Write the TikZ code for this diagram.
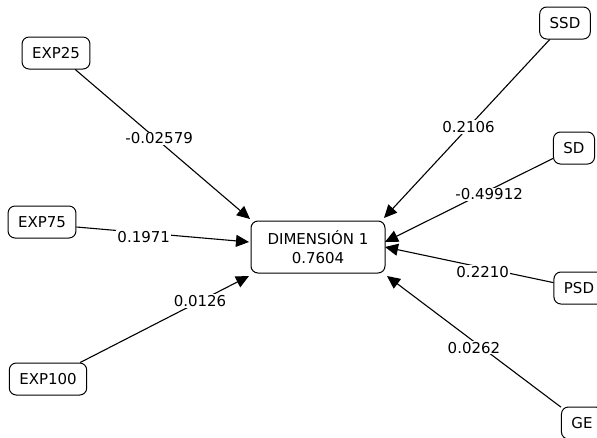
\documentclass[tikz,border=0pt]{standalone}
\usepackage{fontspec}
\setmainfont{DejaVu Sans}
\usetikzlibrary{arrows.meta}

\tikzset{
  var/.style={draw=black, line width=1pt, rounded corners=7pt, fill=white,
    inner xsep=10pt, inner ysep=0pt, minimum height=32pt,
    font=\fontsize{15}{18}\selectfont, text=black},
  latent/.style={var, minimum width=134pt, minimum height=52pt,
    align=center, font=\fontsize{15}{19}\selectfont},
  path/.style={draw=black, line width=1.1pt,
    -{Triangle[length=13pt,width=12pt]}},
  coef/.style={fill=white, inner sep=1pt, font=\fontsize{15}{18}\selectfont,
    text=black}
}

\begin{document}
\begin{tikzpicture}[x=1pt, y=-1pt]
  \useasboundingbox (0,0) rectangle (597,437);
  \clip (0,0) rectangle (597,437);
  \fill[white] (0,0) rectangle (597,437);

  % central construct
  \node[latent] (dim) at (318,247) {DIMENSIÓN 1\\0.7604};

  % indicators
  \node[var] (exp25)  at (56,53)   {EXP25};
  \node[var] (exp75)  at (42,222)  {EXP75};
  \node[var] (exp100) at (48,379)  {EXP100};
  \node[var] (ssd)    at (565,23)  {SSD};
  \node[var] (sd)     at (574,148) {SD};
  \node[var] (psd)    at (579,288) {PSD};
  \node[var] (ge)     at (582,423) {GE};

  % arrow targets on the construct
  \coordinate (tnw) at (250,219);
  \coordinate (tw)  at (249,242);
  \coordinate (tsw) at (249,276);
  \coordinate (tne) at (384,218);
  \coordinate (te1) at (385,242);
  \coordinate (te2) at (385,247);
  \coordinate (tse) at (387,276);

  % paths with coefficients
  \draw[path] (exp25)  -- node[coef, pos=0.48, yshift=3pt] {-0.02579} (tnw);
  \draw[path] ([yshift=-5pt]exp75.east) -- node[coef, pos=0.39, yshift=-4pt] {0.1971} (tw);
  \draw[path] (exp100) -- node[coef, pos=0.71] {0.0126}   (tsw);
  \draw[path] (ssd)    -- node[coef, pos=0.49] {0.2106}   (tne);
  \draw[path] (sd)     -- node[coef, pos=0.38, yshift=-4pt] {-0.49912} (te1);
  \draw[path] (psd)    -- node[coef, pos=0.42, yshift=-4pt] {0.2210}   (te2);
  \draw[path] (ge)     -- node[coef, pos=0.50, yshift=-6pt] {0.0262}   (tse);
\end{tikzpicture}
\end{document}
